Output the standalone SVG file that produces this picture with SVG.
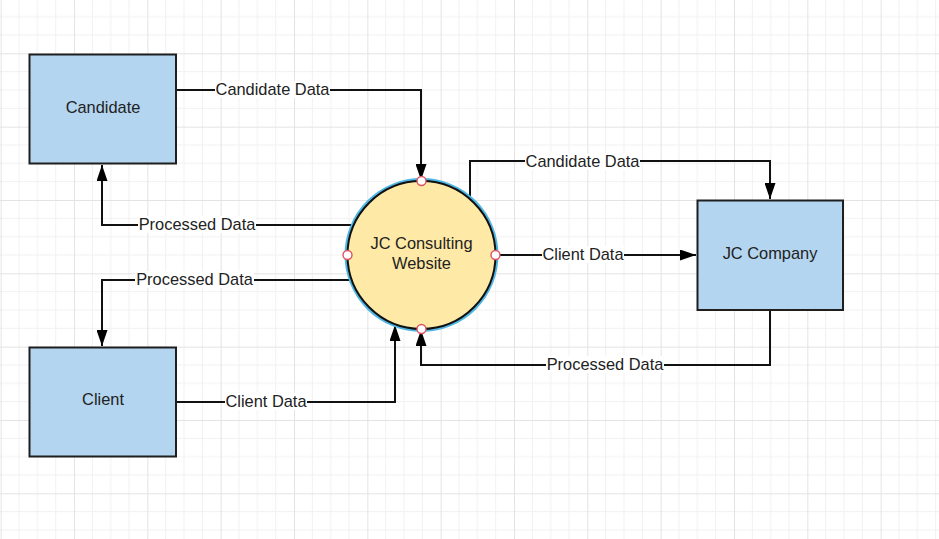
<svg xmlns="http://www.w3.org/2000/svg" width="939" height="539" viewBox="0 0 939 539">
<style>
.box{fill:#b3d5f0;stroke:#1f1f1f;stroke-width:2}
.lbl{font-family:"Liberation Sans",Arial,sans-serif;font-size:16.4px;fill:#222;text-anchor:middle}
.wire{fill:none;stroke:#111;stroke-width:2}
.lbg{fill:#ffffff}
.port{fill:#ffffff;stroke:#e05060;stroke-width:1.4}
</style>
<defs>
<pattern id="grid" patternUnits="userSpaceOnUse" x="0.7" y="-20" width="73.33" height="73.33">
<path d="M18.33 0V73.33M36.67 0V73.33M55 0V73.33M0 18.33H73.33M0 36.67H73.33M0 55H73.33" stroke="#f1f1f1" stroke-width="1" fill="none"/>
<path d="M0.5 0V73.33M0 0.5H73.33" stroke="#e3e3e3" stroke-width="1" fill="none"/>
</pattern>
<marker id="arr" viewBox="0 0 16 11" refX="16" refY="5.5" markerWidth="16" markerHeight="11" markerUnits="userSpaceOnUse" orient="auto">
<path d="M0 0L16 5.5L0 11Z" fill="#000"/>
</marker>
</defs>
<rect width="939" height="539" fill="#ffffff"/>
<rect width="939" height="539" fill="url(#grid)"/>

<g id="connectors">
<path class="wire" d="M176 90H421V180" marker-end="url(#arr)"/>
<path class="wire" d="M354 225H102V165" marker-end="url(#arr)"/>
<path class="wire" d="M352 280H102V346" marker-end="url(#arr)"/>
<path class="wire" d="M176 402H395V325" marker-end="url(#arr)"/>
<path class="wire" d="M470 199V161H770V199" marker-end="url(#arr)"/>
<path class="wire" d="M496 255H696" marker-end="url(#arr)"/>
<path class="wire" d="M770 310V365H421V330" marker-end="url(#arr)"/>
<g id="labels">
<rect class="lbg" x="215" y="81" width="115" height="17"/>
<text class="lbl" x="272.5" y="95">Candidate Data</text>
<rect class="lbg" x="138" y="216" width="118" height="17"/>
<text class="lbl" x="197" y="230">Processed Data</text>
<rect class="lbg" x="135" y="271" width="119" height="17"/>
<text class="lbl" x="194.5" y="285">Processed Data</text>
<rect class="lbg" x="225" y="393" width="82" height="17"/>
<text class="lbl" x="266" y="407">Client Data</text>
<rect class="lbg" x="525" y="153" width="115" height="17"/>
<text class="lbl" x="582.5" y="167">Candidate Data</text>
<rect class="lbg" x="542" y="246" width="82" height="17"/>
<text class="lbl" x="583" y="260">Client Data</text>
<rect class="lbg" x="546" y="356" width="118" height="17"/>
<text class="lbl" x="605" y="370">Processed Data</text>
</g>
</g>

<g id="candidate">
<rect class="box" x="29.5" y="54.5" width="146.5" height="109"/>
<text class="lbl" x="103" y="113">Candidate</text>
</g>
<g id="client">
<rect class="box" x="29.5" y="347.5" width="146.5" height="109"/>
<text class="lbl" x="103" y="405">Client</text>
</g>
<g id="jc-company">
<rect class="box" x="697.5" y="200.5" width="145.5" height="109.5"/>
<text class="lbl" x="770" y="259">JC Company</text>
</g>
<g id="jc-consulting-website">
<circle cx="421.5" cy="255" r="75.5" fill="none" stroke="#4fb6e4" stroke-width="3"/>
<circle cx="421.5" cy="255" r="74" fill="#ffe9a6" stroke="#111" stroke-width="2"/>
<text class="lbl" x="421.5" y="249">JC Consulting</text>
<text class="lbl" x="421.5" y="269">Website</text>
<circle class="port" cx="421.5" cy="181" r="4.5"/>
<circle class="port" cx="347.5" cy="255" r="4.5"/>
<circle class="port" cx="495.5" cy="255" r="4.5"/>
<circle class="port" cx="421.5" cy="329" r="4.5"/>
</g>
</svg>
